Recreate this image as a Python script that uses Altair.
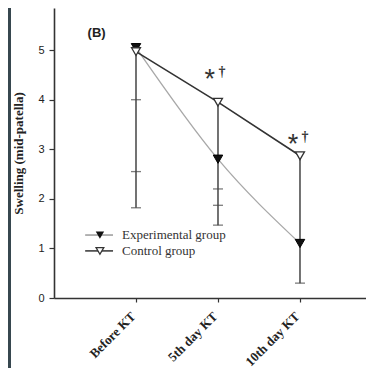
import altair as alt
import pandas as pd

# ---- data ----
cat_pos = [1, 2, 3]
cat_labels = ["Before KT", "5th day KT", "10th day KT"]
exp_vals = [5.05, 2.80, 1.10]
ctrl_vals = [4.97, 3.95, 2.87]
bar_top = [5.05, 3.95, 2.87]
bar_bottom = [1.82, 1.47, 0.30]
cap_x = [1, 1, 1, 2, 2, 2, 3]
cap_y = [4.00, 2.55, 1.82, 2.20, 1.87, 1.47, 0.30]
star_x = [1.90, 2.915]
star_y = [4.54, 3.23]
dagger_x = [2.05, 3.06]
dagger_y = [4.58, 3.27]
legend_labels = ["Experimental group", "Control group"]

SERIF = "Liberation Serif"
SANS = "Liberation Sans"
AX = "#333333"

label_expr = " : ".join(
    f"datum.value == {p} ? '{l}'" for p, l in zip(cat_pos, cat_labels)
) + " : ''"


def X(field="x"):
    return alt.X(
        f"{field}:Q",
        scale=alt.Scale(domain=[0, 3.805], nice=False, zero=False),
        axis=alt.Axis(
            values=cat_pos, labelExpr=label_expr, title=None, grid=False,
            labelAngle=-45, labelAlign="right", labelBaseline="middle",
            labelFont=SERIF, labelFontWeight="bold", labelFontSize=13,
            labelColor="#222", labelPadding=12, labelOffset=-3, tickSize=4, zindex=1,
            domainColor=AX, tickColor=AX, domainWidth=1.6, tickWidth=1.2,
        ),
    )


def Y(field="y"):
    return alt.Y(
        f"{field}:Q",
        scale=alt.Scale(domain=[0, 5.85], nice=False),
        axis=alt.Axis(
            values=[0, 1, 2, 3, 4, 5], title="Swelling (mid-patella)", grid=False,
            titleFont=SERIF, titleFontWeight="bold", titleFontSize=13,
            titleColor="#222", titlePadding=12, zindex=1,
            labelFont=SANS, labelFontSize=11, labelColor="#222", labelPadding=5,
            tickSize=5, domainColor=AX, tickColor=AX, domainWidth=1.6, tickWidth=1.2,
        ),
    )


df_lines = pd.DataFrame({
    "x": cat_pos * 2,
    "y": exp_vals + ctrl_vals,
    "g": ["exp"] * 3 + ["ctrl"] * 3,
})
df_exp = df_lines[df_lines.g == "exp"]
df_ctrl = df_lines[df_lines.g == "ctrl"]
df_bars = pd.DataFrame({"x": cat_pos, "y": bar_top, "y2": bar_bottom})
df_caps = pd.DataFrame({"x": cap_x, "y": cap_y})
df_star = pd.DataFrame({"x": star_x, "y": star_y})
df_dag = pd.DataFrame({"x": dagger_x, "y": dagger_y})

# legend (placed in data space, inside the plot)
leg_y = [1.27, 0.95]
df_leg_line = pd.DataFrame({"x": [0.38, 0.38], "x2": [0.72, 0.72], "y": leg_y,
                            "c": ["#9a9a9a", "#333333"]})
df_leg_exp = pd.DataFrame({"x": [0.56], "y": [leg_y[0]]})
df_leg_ctrl = pd.DataFrame({"x": [0.56], "y": [leg_y[1]]})
df_leg_text = pd.DataFrame({"x": [0.83, 0.83], "y": leg_y, "t": legend_labels})
df_b = pd.DataFrame({"x": [0.52], "y": [5.34], "t": ["(B)"]})

bg = alt.Chart(pd.DataFrame({"a": [0]})).mark_rect(color="white").encode(
    x=alt.value(-43), x2=alt.value(330), y=alt.value(-20), y2=alt.value(400)
)

exp_line = alt.Chart(df_exp).mark_line(color="#a8a8a8", strokeWidth=1.3,
                                       interpolate="monotone").encode(x=X(), y=Y())
ctrl_line = alt.Chart(df_ctrl).mark_line(color="#333333", strokeWidth=1.6).encode(x=X(), y=Y())
bars = alt.Chart(df_bars).mark_rule(color="#444", strokeWidth=1.5).encode(
    x=X(), y=Y(), y2="y2:Q")
caps = alt.Chart(df_caps).mark_tick(orient="horizontal", color="#444", thickness=1.3,
                                    size=10).encode(x=X(), y=Y())
exp_pts = alt.Chart(df_exp).mark_point(shape="triangle-down", filled=True, size=90,
                                       color="#111", stroke="#000", strokeWidth=1,
                                       opacity=1).encode(x=X(), y=Y())
ctrl_pts = alt.Chart(df_ctrl).mark_point(shape="triangle-down", size=80, fill="white",
                                         fillOpacity=1, stroke="#333", strokeWidth=1.3,
                                         opacity=1).encode(x=X(), y=Y())
stars = alt.Chart(df_star).mark_text(text="*", font=SANS, fontSize=27, color="#333",
                                     baseline="alphabetic", dy=15).encode(x=X(), y=Y())
dags = alt.Chart(df_dag).mark_text(text="†", font=SERIF, fontSize=14, color="#333",
                                   fontWeight="bold",
                                   baseline="alphabetic", dy=5).encode(x=X(), y=Y())

leg_lines = alt.Chart(df_leg_line).mark_rule(strokeWidth=1.5).encode(
    x=X(), x2="x2:Q", y=Y(), color=alt.Color("c:N", scale=None))
leg_exp = alt.Chart(df_leg_exp).mark_point(shape="triangle-down", filled=True, size=70,
                                           color="#111", opacity=1).encode(x=X(), y=Y())
leg_ctrl = alt.Chart(df_leg_ctrl).mark_point(shape="triangle-down", size=60, fill="white",
                                             fillOpacity=1, stroke="#333", strokeWidth=1.3,
                                             opacity=1).encode(x=X(), y=Y())
leg_text = alt.Chart(df_leg_text).mark_text(align="left", baseline="middle", font=SERIF,
                                            fontSize=13, color="#333").encode(
    x=X(), y=Y(), text="t:N")
b_text = alt.Chart(df_b).mark_text(font=SANS, fontWeight="bold", fontSize=13,
                                   color="#222", baseline="middle").encode(
    x=X(), y=Y(), text="t:N")

chart = alt.layer(
    bg, exp_line, ctrl_line, bars, caps, exp_pts, ctrl_pts, stars, dags,
    leg_lines, leg_exp, leg_ctrl, leg_text, b_text
).properties(
    width=312, height=290,
    padding={"left": 46, "top": 0, "right": 0, "bottom": 70},
    autosize=alt.AutoSizeParams(type="none"),
    background="#37474f",
).configure_view(stroke=None)

chart.save("out.html", embed_options={"renderer": "svg", "actions": False})
